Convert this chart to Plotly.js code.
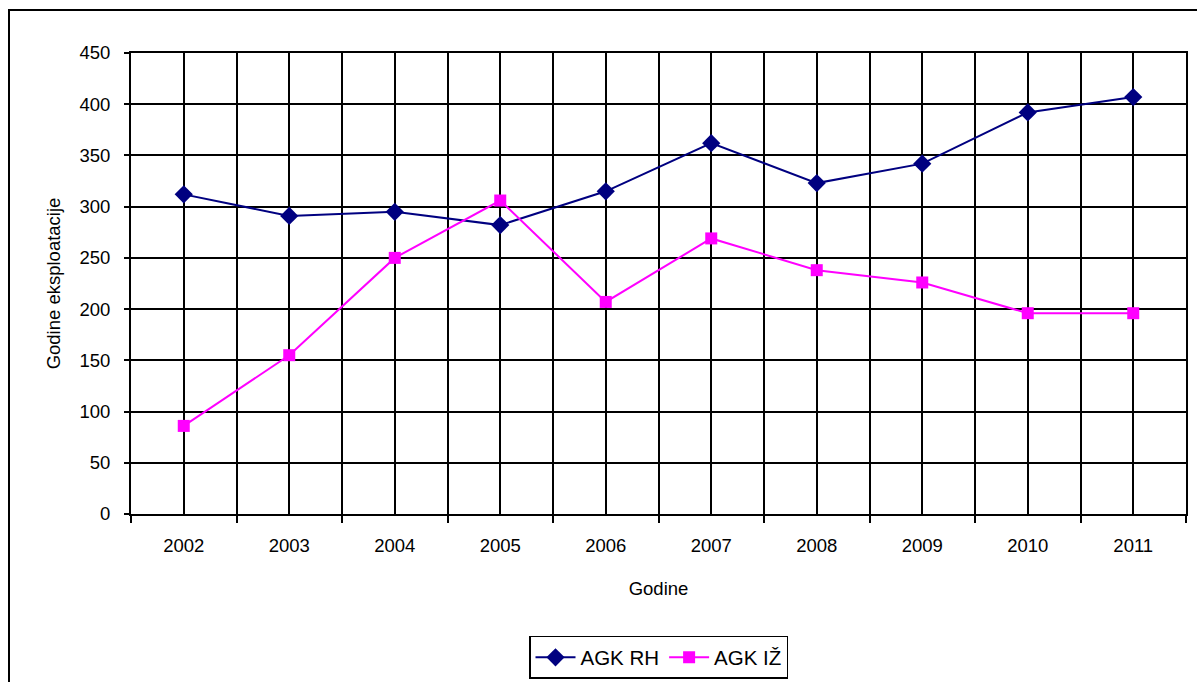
<!DOCTYPE html>
<html>
<head>
<meta charset="utf-8">
<script src="https://cdn.plot.ly/plotly-3.0.1.min.js"></script>
<style>
html,body{margin:0;padding:0;background:#fff;}
#chart{width:1197px;height:682px;}
</style>
</head>
<body>
<div id="chart"></div>
<script>
const years = [2002, 2003, 2004, 2005, 2006, 2007, 2008, 2009, 2010, 2011];
const yearLabels = ["2002", "2003", "2004", "2005", "2006", "2007", "2008", "2009", "2010", "2011"];
const agkRH = [312, 291, 295, 282, 315, 362, 323, 342, 392, 407];
const agkIZ = [86, 155, 250, 306, 207, 269, 238, 226, 196, 196];

const font = {family: "Liberation Sans, Arial, sans-serif", size: 18.5, color: "#000"};

const traces = [
  {
    x: years, y: agkRH, name: "AGK RH", type: "scatter", mode: "lines+markers",
    line: {color: "#000080", width: 2},
    marker: {symbol: "diamond", size: 14, color: "#000080"}
  },
  {
    x: years, y: agkIZ, name: "AGK IŽ", type: "scatter", mode: "lines+markers",
    line: {color: "#FF00FF", width: 2},
    marker: {symbol: "square", size: 12, color: "#FF00FF"}
  }
];

const layout = {
  width: 1197, height: 682,
  margin: {l: 131, r: 11, t: 53, b: 168, autoexpand: false},
  paper_bgcolor: "#fff", plot_bgcolor: "#fff",
  font: font,
  showlegend: true,
  legend: {
    orientation: "h", x: 0.5, xanchor: "center", y: -0.2646, yanchor: "top",
    bordercolor: "#000", borderwidth: 1.5, font: {family: font.family, size: 20.5, color: "#000"},
    itemwidth: 40, bgcolor: "#fff", tracegroupgap: 0
  },
  xaxis: {
    range: [2001.5, 2011.5], automargin: false,
    tickvals: years, ticktext: yearLabels,
    ticks: "", showgrid: true, gridcolor: "#000", gridwidth: 2,
    showline: true, linecolor: "#000", linewidth: 2, mirror: true,
    zeroline: false,
    ticklabelstandoff: 14,
    minor: {tick0: 2001.5, dtick: 1, ticks: "outside", ticklen: 7, tickcolor: "#000", tickwidth: 2,
            showgrid: true, gridcolor: "#000", gridwidth: 2},
    tickfont: font,
    title: {text: "Godine", font: font, standoff: 27}
  },
  yaxis: {
    range: [0, 450], dtick: 50, tick0: 0, automargin: false,
    ticks: "outside", ticklen: 5, tickcolor: "#000", tickwidth: 2,
    showgrid: true, gridcolor: "#000", gridwidth: 2,
    showline: true, linecolor: "#000", linewidth: 2, mirror: true,
    zeroline: false,
    ticklabelstandoff: 10,
    tickfont: font,
    title: {text: "Godine eksploatacije", font: font, standoff: 14}
  },
  shapes: [
    {type: "rect", xref: "paper", yref: "paper",
     x0: (9 - 131) / 1055, x1: 1.2, y0: -0.6, y1: (514 - 10) / 461,
     line: {color: "#000", width: 2}, fillcolor: "rgba(0,0,0,0)", layer: "below"}
  ]
};

Plotly.newPlot("chart", traces, layout, {displayModeBar: false, staticPlot: true});
</script>
</body>
</html>
